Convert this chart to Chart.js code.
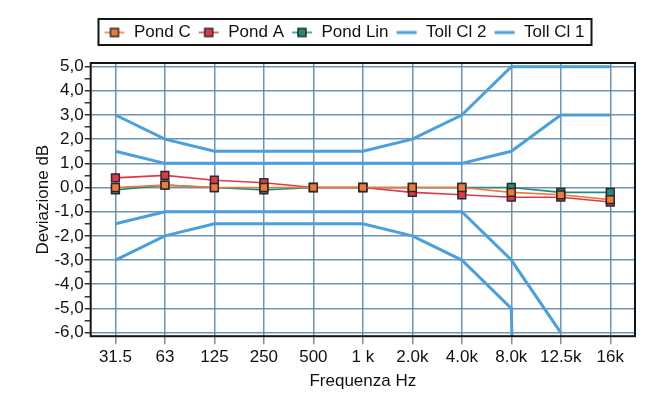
<!DOCTYPE html>
<html>
<head>
<meta charset="utf-8">
<script src="https://cdn.jsdelivr.net/npm/chart.js@4.4.0/dist/chart.umd.min.js"></script>
<style>
  html, body { margin: 0; padding: 0; background: #fff; }
  #wrap { width: 647px; height: 393px; }
</style>
</head>
<body>
<div id="wrap"><canvas id="grafico"></canvas></div>
<script>
const frequenze = ['31.5', '63', '125', '250', '500', '1 k', '2.0k', '4.0k', '8.0k', '12.5k', '16k'];
const pondC   = [0.0, 0.1, 0.0, 0.0, 0.0, 0.0, 0.0, 0.0, -0.2, -0.3, -0.5];
const pondA   = [0.4, 0.5, 0.3, 0.2, 0.0, 0.0, -0.2, -0.3, -0.4, -0.4, -0.6];
const pondLin = [-0.1, 0.1, 0.0, -0.1, 0.0, 0.0, 0.0, 0.0, 0.0, -0.2, -0.2];
// tolleranze: Cl 2 esterna, Cl 1 interna (-99 = nessun limite inferiore)
const tollCl2Sup = [3.0, 2.0, 1.5, 1.5, 1.5, 1.5, 2.0, 3.0, 5.0, 5.0, 5.0];
const tollCl2Inf = [-3.0, -2.0, -1.5, -1.5, -1.5, -1.5, -2.0, -3.0, -5.0, -99, -99];
const tollCl1Sup = [1.5, 1.0, 1.0, 1.0, 1.0, 1.0, 1.0, 1.0, 1.5, 3.0, 3.0];
const tollCl1Inf = [-1.5, -1.0, -1.0, -1.0, -1.0, -1.0, -1.0, -1.0, -3.0, -6.0, null];
const valoriY = [-6, -5, -4, -3, -2, -1, 0, 1, 2, 3, 4, 5];

const FONT = 'Liberation Sans, Arial, sans-serif';
const colGriglia = 'rgba(95,135,170,0.9)';
const colToll = '#4a9fdd';

function icona(colore, conQuadro) {
  const c = document.createElement('canvas');
  c.width = 22; c.height = 12;
  const g = c.getContext('2d');
  g.strokeStyle = colore;
  g.lineWidth = conQuadro ? 1.5 : 3;
  g.beginPath(); g.moveTo(1, 6); g.lineTo(21, 6); g.stroke();
  if (conQuadro) {
    g.fillStyle = colore;
    g.strokeStyle = '#2a2a2a';
    g.lineWidth = 1.5;
    g.fillRect(7, 2, 8, 8);
    g.strokeRect(7, 2, 8, 8);
  }
  return c;
}

function serie(label, dati, colore) {
  return {
    label: label, data: dati,
    borderColor: colore, backgroundColor: colore, borderWidth: 1.6,
    pointStyle: 'rect', pointRadius: 5.5, pointBorderColor: '#2a2a2a', pointBorderWidth: 1.5,
    pointBackgroundColor: colore, tension: 0, icona: icona(colore, true)
  };
}

function tolleranza(label, dati, nascosto) {
  return {
    label: label, data: dati,
    borderColor: colToll, backgroundColor: colToll, borderWidth: 3,
    pointRadius: 0, tension: 0, spanGaps: false,
    nascondi: nascosto, icona: icona(colToll, false)
  };
}

const cornice = {
  id: 'cornice',
  beforeInit(chart) {
    // spazio extra sotto la legenda
    const fitOrig = chart.legend.fit;
    chart.legend.fit = function () {
      fitOrig.call(this);
      this.height += 12;
    };
  },
  afterLayout(chart) {
    chart.legend.left += 10;
    chart.legend.right += 10;
  },
  afterDraw(chart) {
    const ctx = chart.ctx;
    const a = chart.chartArea;
    ctx.save();
    ctx.strokeStyle = '#151515';
    ctx.lineWidth = 2;
    ctx.strokeRect(a.left, a.top, a.right - a.left, a.bottom - a.top);
    const hb = chart.legend.legendHitBoxes;
    if (hb && hb.length) {
      let l = Infinity, r = -Infinity, t = Infinity, b = -Infinity;
      hb.forEach(h => {
        l = Math.min(l, h.left); r = Math.max(r, h.left + h.width);
        t = Math.min(t, h.top); b = Math.max(b, h.top + h.height);
      });
      ctx.strokeRect(l - 5, t - 5, r - l + 12, b - t + 9);
    }
    ctx.restore();
  }
};

new Chart(document.getElementById('grafico'), {
  type: 'line',
  data: {
    labels: frequenze,
    datasets: [
      serie('Pond C', pondC, '#f07a3a'),
      serie('Pond A', pondA, '#e0384a'),
      serie('Pond Lin', pondLin, '#1e8c7e'),
      tolleranza('Toll Cl 2', tollCl2Sup, false),
      tolleranza('Toll Cl 1', tollCl1Sup, false),
      tolleranza('Toll Cl 2', tollCl2Inf, true),
      tolleranza('Toll Cl 1', tollCl1Inf, true)
    ]
  },
  options: {
    responsive: true,
    maintainAspectRatio: false,
    animation: false,
    layout: { padding: { left: 33, right: 12, top: 17, bottom: 1 } },
    plugins: {
      tooltip: { enabled: false },
      legend: {
        position: 'top',
        labels: {
          font: { family: FONT, size: 17 },
          color: '#111',
          usePointStyle: true,
          pointStyleWidth: 22,
          padding: 7,
          filter: (item, data) => !data.datasets[item.datasetIndex].nascondi,
          generateLabels(chart) {
            const base = Chart.defaults.plugins.legend.labels.generateLabels(chart);
            return base.map(it => {
              it.pointStyle = chart.data.datasets[it.datasetIndex].icona;
              return it;
            });
          }
        }
      }
    },
    scales: {
      x: {
        type: 'category',
        offset: true,
        border: { display: false },
        grid: { offset: false, color: colGriglia, lineWidth: 1.5, tickLength: 8, tickColor: colGriglia },
        ticks: { font: { family: FONT, size: 17 }, color: '#111', padding: 3, maxRotation: 0, autoSkip: false },
        title: { display: true, text: 'Frequenza Hz', font: { family: FONT, size: 17 }, color: '#111', padding: { top: 1, bottom: 0 } }
      },
      y: {
        min: -6.15,
        max: 5.15,
        border: { display: false },
        afterBuildTicks(scale) {
          const t = [];
          valoriY.forEach(v => { t.push({ value: v }); if (v < 5) t.push({ value: v + 0.5 }); });
          scale.ticks = t;
        },
        grid: {
          color: c => Number.isInteger(c.tick.value) ? colGriglia : 'rgba(0,0,0,0)',
          tickColor: '#333',
          lineWidth: 1.5,
          tickLength: 6
        },
        ticks: {
          font: { family: FONT, size: 17 }, color: '#111', padding: 1, autoSkip: false,
          callback: v => Number.isInteger(v) ? v.toFixed(1).replace('.', ',') : ''
        },
        title: { display: true, text: 'Deviazione dB', font: { family: FONT, size: 17 }, color: '#111', padding: { top: 0, bottom: 0 } }
      }
    }
  },
  plugins: [cornice]
});
</script>
</body>
</html>
